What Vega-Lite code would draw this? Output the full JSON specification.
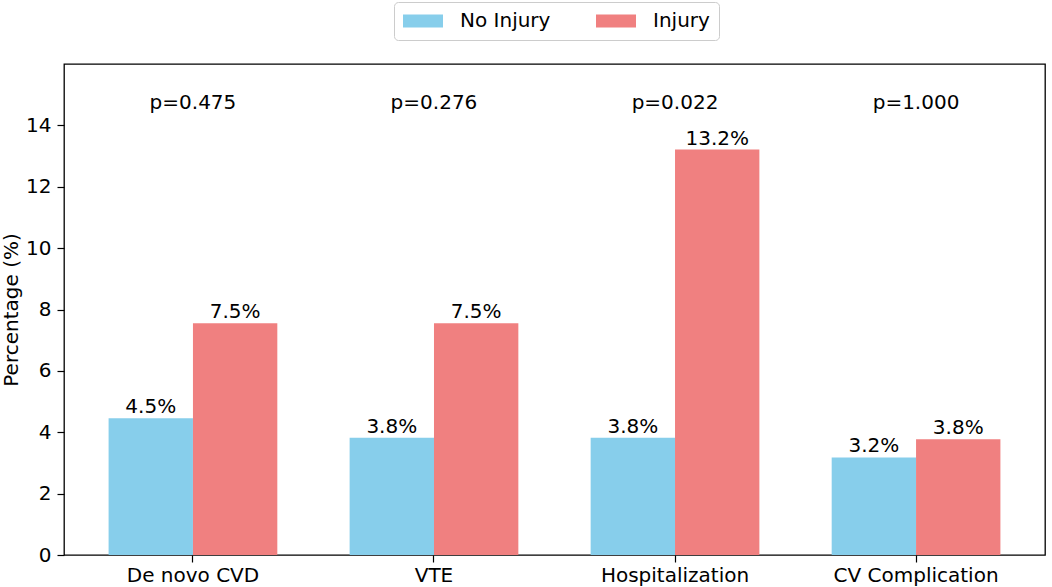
{
  "$schema": "https://vega.github.io/schema/vega-lite/v6.json",
  "width": 981,
  "height": 491,
  "autosize": {"type": "none"},
  "padding": {"left": 64, "top": 64, "right": 7, "bottom": 32},
  "background": "white",
  "config": {
    "font": "DejaVu Sans",
    "view": {"stroke": "black", "strokeWidth": 1.3},
    "axis": {"grid": false, "labelColor": "black", "titleColor": "black", "tickColor": "black", "domainColor": "black", "labelFontSize": 20, "titleFontSize": 20, "titleFontWeight": "normal", "tickSize": 7, "tickWidth": 1.2}
  },
  "datasets": {
    "bars": [
      {"category": "De novo CVD", "group": "No Injury", "value": 4.46, "label": "4.5%"},
      {"category": "De novo CVD", "group": "Injury", "value": 7.55, "label": "7.5%"},
      {"category": "VTE", "group": "No Injury", "value": 3.82, "label": "3.8%"},
      {"category": "VTE", "group": "Injury", "value": 7.55, "label": "7.5%"},
      {"category": "Hospitalization", "group": "No Injury", "value": 3.82, "label": "3.8%"},
      {"category": "Hospitalization", "group": "Injury", "value": 13.21, "label": "13.2%"},
      {"category": "CV Complication", "group": "No Injury", "value": 3.18, "label": "3.2%"},
      {"category": "CV Complication", "group": "Injury", "value": 3.77, "label": "3.8%"}
    ],
    "pvals": [
      {"category": "De novo CVD", "p": "p=0.475"},
      {"category": "VTE", "p": "p=0.276"},
      {"category": "Hospitalization", "p": "p=0.022"},
      {"category": "CV Complication", "p": "p=1.000"}
    ]
  },
  "encoding": {
    "x": {
      "field": "category", "type": "nominal",
      "sort": ["De novo CVD", "VTE", "Hospitalization", "CV Complication"],
      "scale": {"paddingInner": 0.3, "paddingOuter": 0.185},
      "axis": {"title": null, "labelAngle": 0, "domain": false, "labelPadding": 3}
    }
  },
  "layer": [
    {
      "data": {"name": "bars"},
      "mark": {"type": "bar", "strokeWidth": 0},
      "encoding": {
        "xOffset": {"field": "group", "type": "nominal", "sort": ["No Injury", "Injury"], "scale": {"paddingInner": 0, "paddingOuter": 0}},
        "y": {"field": "value", "type": "quantitative", "scale": {"domain": [0, 16], "nice": false},
          "axis": {"title": "Percentage (%)", "values": [0, 2, 4, 6, 8, 10, 12, 14], "domain": false, "labelPadding": 6, "titlePadding": 4}},
        "color": {"field": "group", "type": "nominal",
          "scale": {"domain": ["No Injury", "Injury"], "range": ["#87CEEB", "#F08080"]},
          "legend": {"title": null, "orient": "none", "legendX": 330, "legendY": -62, "direction": "horizontal",
            "labelFontSize": 20, "labelColor": "black", "symbolType": "M-1,-0.65L3,-0.65L3,0.65L-1,0.65Z", "symbolSize": 400,
            "symbolStrokeWidth": 0, "symbolOpacity": 1, "labelOffset": 37, "columnPadding": 45, "padding": 9,
            "strokeColor": "#cccccc", "cornerRadius": 4, "fillColor": "white"}}
      }
    },
    {
      "data": {"name": "bars"},
      "mark": {"type": "text", "fontSize": 20, "baseline": "bottom", "dy": -1, "color": "black"},
      "encoding": {
        "xOffset": {"field": "group", "type": "nominal", "sort": ["No Injury", "Injury"]},
        "y": {"field": "value", "type": "quantitative"},
        "text": {"field": "label"}
      }
    },
    {
      "data": {"name": "pvals"},
      "mark": {"type": "text", "fontSize": 20, "baseline": "middle", "color": "black"},
      "encoding": {
        "y": {"datum": 14.73, "type": "quantitative"},
        "text": {"field": "p"}
      }
    }
  ]
}
